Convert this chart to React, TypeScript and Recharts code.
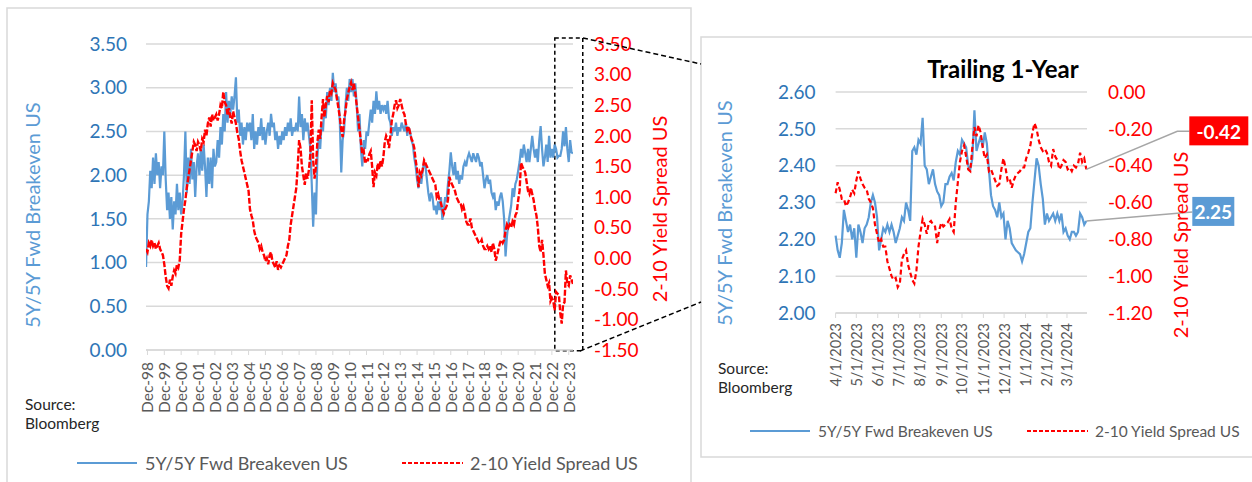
import {
  CartesianGrid,
  ComposedChart,
  LabelList,
  Line,
  ReferenceArea,
  XAxis,
  YAxis,
} from 'recharts'

const FONT = 'Lato, "Open Sans", sans-serif'
const BLUE = '#5B9BD5'
const BLUE_TEXT = '#2E75B6'
const RED = '#FF0000'
const GRID = '#D9D9D9'
const GREY_TEXT = '#595959'

// Long history: month-end readings from Nov 1998 through Mar 2024
const historyStartYear = 1998
const historyStartMonth = 10 // November, zero-based
const breakevenMonthly = [
  0.95, 1.55,
  1.7, 2.05, 1.85, 2.2, 1.9, 2.25, 2.0, 2.15, 1.85, 2.1, 2.0, 2.5,
  1.95, 1.6, 1.8, 1.5, 1.75, 1.38, 1.7, 1.55, 1.9, 1.6, 1.8, 1.55,
  1.7, 2.0, 2.5, 1.8, 2.2, 1.9, 2.3, 1.95, 2.15, 1.75, 2.1, 2.25,
  2.0, 2.3, 2.05, 2.35, 2.1, 1.75, 2.2, 1.9, 2.2, 1.85, 2.3, 2.1,
  2.15, 2.4, 2.2, 2.55, 2.35, 2.7, 2.5, 2.95, 2.6, 2.85, 2.7, 2.9,
  2.75, 2.9, 3.12, 2.6, 2.75, 2.45, 2.6, 2.35, 2.55, 2.4, 2.6, 2.5,
  2.6, 2.4, 2.7, 2.3, 2.5, 2.35, 2.55, 2.45, 2.65, 2.4, 2.55, 2.35,
  2.5, 2.6, 2.45, 2.7, 2.55, 2.6, 2.4, 2.5, 2.3, 2.45, 2.35, 2.5,
  2.4, 2.55, 2.45, 2.6, 2.5, 2.65, 2.45, 2.55, 2.5, 2.6, 2.5, 2.9,
  2.55, 2.7, 2.4, 2.65, 2.5, 2.6, 2.45, 2.3, 1.9, 1.41, 1.8, 1.55,
  2.2, 2.45, 2.3, 2.6, 2.5, 2.8, 2.65, 2.95, 2.8, 3.0, 2.85, 3.17,
  2.95, 3.05, 2.85, 2.9, 2.6, 2.03, 2.4, 2.5, 2.8, 3.0, 2.85, 3.1,
  2.95, 3.1, 2.9, 3.05, 2.8, 2.5, 2.7, 2.3, 2.1, 2.4, 2.3, 2.5,
  2.45, 2.6, 2.75, 2.6, 2.85, 2.7, 2.96, 2.75, 2.85, 2.7, 2.8, 2.75,
  2.8, 2.7, 2.85, 2.65, 2.6, 2.45, 2.55, 2.5, 2.6, 2.45, 2.55, 2.5,
  2.6, 2.55, 2.5, 2.6, 2.45, 2.55, 2.5, 2.4, 2.35, 2.2, 2.1, 1.95,
  1.85, 2.0, 1.9, 2.05, 2.15, 2.1, 1.95, 1.8, 1.7, 1.8, 1.75, 1.6,
  1.65, 1.55, 1.7, 1.6, 1.75, 1.49, 1.6, 1.75, 1.7, 1.9, 2.05, 2.26,
  2.1, 2.0, 2.15, 1.95, 2.05, 1.9, 2.0, 1.95, 2.1, 2.15, 2.1, 2.2,
  2.25, 2.2, 2.15, 2.25, 2.2, 2.15, 2.25, 2.2, 2.1, 2.15, 2.0, 1.85,
  1.95, 2.0, 1.9, 1.95, 1.8, 1.75, 1.8, 1.6, 1.7, 1.65, 1.75, 1.8,
  1.7, 1.5, 1.07, 1.3, 1.45, 1.55, 1.65, 1.85, 1.75, 1.9, 1.95, 2.05,
  2.15, 2.3, 2.2, 2.35, 2.25, 2.15, 2.3, 2.15, 2.3, 2.45, 2.3, 2.2,
  2.3, 2.15, 2.4, 2.56, 2.3, 2.1, 2.2, 2.35, 2.15, 2.45, 2.2, 2.3,
  2.2, 2.35, 2.3, 2.2, 2.22, 2.22, 2.3, 2.5, 2.33, 2.55, 2.3, 2.15,
  2.4, 2.26, 2.25,
]
const spreadMonthly = [
  0.15, 0.1,
  0.25, 0.2, 0.3, 0.2, 0.25, 0.15, 0.2, 0.25, 0.15, 0.1, 0.05, -0.1,
  -0.3, -0.45, -0.49, -0.35, -0.45, -0.3, -0.2, -0.25, -0.1, -0.15, -0.03, 0.4,
  0.6, 0.8, 0.95, 1.15, 1.3, 1.45, 1.6, 1.75, 1.9, 1.85, 1.75, 1.9,
  1.85, 1.75, 1.95, 1.9, 2.1, 2.0, 2.2, 2.3, 2.15, 2.35, 2.25, 2.3,
  2.35, 2.25, 2.35, 2.5, 2.45, 2.72, 2.55, 2.5, 2.35, 2.45, 2.3, 2.2,
  2.4, 2.3, 2.2, 2.05, 1.95, 1.75, 1.6, 1.5, 1.4, 1.3, 1.2, 1.1,
  0.8, 0.7, 0.62, 0.45, 0.35, 0.3, 0.25, 0.15, 0.2, 0.1, 0.05, -0.05,
  0.0, -0.1, 0.05, 0.1, -0.05, -0.1, -0.15, -0.05, -0.19, -0.12, -0.15, -0.1,
  -0.05, 0.0, 0.05, 0.2, 0.3, 0.55, 0.7, 0.85, 1.0, 1.15, 1.5, 1.93,
  1.8, 1.5, 1.35, 1.2, 1.4, 1.3, 1.45, 1.7, 2.58, 1.6, 1.3, 1.5,
  1.9, 2.1, 1.95, 2.3, 2.6, 2.3, 2.5, 2.65, 2.55, 2.75, 2.7, 2.86,
  2.8, 2.75, 2.6, 2.45, 2.3, 2.1, 1.98, 2.25, 2.4, 2.6, 2.7, 2.8,
  2.87, 2.75, 2.85, 2.7, 2.5, 2.3, 2.1, 1.9, 1.7, 1.75, 1.55, 1.6,
  1.6, 1.7, 1.75, 1.5, 1.16, 1.4, 1.35, 1.55, 1.45, 1.6, 1.5, 1.65,
  1.9, 2.0, 1.95, 1.8, 2.0, 2.25, 2.35, 2.5, 2.58, 2.45, 2.5, 2.6,
  2.5, 2.4, 2.35, 2.2, 2.1, 2.15, 2.05, 1.95, 1.9, 1.8, 1.6, 1.45,
  1.16, 1.4, 1.35, 1.45, 1.6, 1.55, 1.5, 1.45, 1.4, 1.35, 1.3, 1.25,
  1.2, 1.0, 1.05, 0.95, 0.9, 0.8, 0.73, 0.8, 0.85, 0.95, 1.33, 1.25,
  1.2, 1.15, 1.1, 1.0, 0.95, 0.9, 0.9, 0.8, 0.85, 0.75, 0.6, 0.55,
  0.55, 0.65, 0.5, 0.45, 0.4, 0.35, 0.3, 0.25, 0.25, 0.3, 0.2, 0.15,
  0.15, 0.2, 0.15, 0.2, 0.1, 0.25, 0.15, -0.04, 0.05, 0.15, 0.25, 0.3,
  0.25, 0.3, 0.45, 0.55, 0.5, 0.55, 0.5, 0.6, 0.55, 0.7, 0.75, 0.95,
  1.1, 1.56, 1.5, 1.45, 1.4, 1.25, 1.1, 1.05, 1.15, 1.05, 0.95, 0.8,
  0.7, 0.5, 0.2, 0.1, 0.3, 0.05, -0.25, -0.35, -0.45, -0.4, -0.7, -0.65,
  -0.7, -0.85, -0.55, -0.58, -0.6, -0.9, -1.07, -0.75, -0.72, -0.2, -0.42, -0.45,
  -0.28, -0.35, -0.42,
]
const decemberYears = [
  1998, 1999, 2000, 2001, 2002, 2003, 2004, 2005, 2006, 2007, 2008, 2009, 2010,
  2011, 2012, 2013, 2014, 2015, 2016, 2017, 2018, 2019, 2020, 2021, 2022, 2023,
]
const breakevenTicks = [0, 0.5, 1, 1.5, 2, 2.5, 3, 3.5]
const spreadTicks = [-1.5, -1, -0.5, 0, 0.5, 1, 1.5, 2, 2.5, 3, 3.5]

// Trailing year: every third calendar day from 4/1/2023
const trailStart = '4/1/2023'
const trailStepDays = 3
const trailBreakeven = [
  2.21, 2.17, 2.15, 2.19, 2.28, 2.25, 2.22, 2.24, 2.2, 2.23, 2.15, 2.24,
  2.22, 2.19, 2.23, 2.24, 2.26, 2.3, 2.32, 2.3, 2.26, 2.17, 2.2, 2.23,
  2.22, 2.24, 2.22, 2.24, 2.22, 2.19, 2.21, 2.23, 2.26, 2.25, 2.3, 2.28,
  2.25, 2.44, 2.45, 2.43, 2.47, 2.46, 2.53, 2.4, 2.39, 2.35, 2.37, 2.39,
  2.35, 2.33, 2.32, 2.29, 2.3, 2.35, 2.35, 2.37, 2.38, 2.36, 2.41, 2.44,
  2.43, 2.47, 2.46, 2.45, 2.4, 2.39, 2.42, 2.55, 2.44, 2.46, 2.48, 2.45,
  2.49, 2.46, 2.39, 2.32, 2.29, 2.28, 2.26, 2.3, 2.26, 2.27, 2.2, 2.25,
  2.23, 2.19, 2.18, 2.17, 2.165, 2.16, 2.14, 2.16, 2.19, 2.22, 2.23, 2.3,
  2.36, 2.42, 2.4, 2.35, 2.31, 2.24, 2.27, 2.25, 2.26, 2.27, 2.25, 2.27,
  2.25, 2.27, 2.22, 2.23, 2.21, 2.2, 2.22, 2.22, 2.21, 2.22, 2.27, 2.26,
  2.24, 2.25,
]
const trailSpread = [
  -0.55, -0.49, -0.53, -0.58, -0.58, -0.62, -0.6, -0.57, -0.53, -0.55, -0.48, -0.43,
  -0.47, -0.5, -0.52, -0.53, -0.58, -0.6, -0.63, -0.72, -0.77, -0.82, -0.8, -0.84,
  -0.84, -0.92, -0.96, -1.0, -1.02, -1.01, -1.06, -1.04, -0.91, -0.88, -0.86, -0.94,
  -0.98, -1.02, -1.04, -0.97, -0.84, -0.76, -0.69, -0.72, -0.77, -0.71, -0.7, -0.72,
  -0.73, -0.82, -0.75, -0.71, -0.73, -0.72, -0.71, -0.69, -0.74, -0.76, -0.6, -0.49,
  -0.38, -0.32, -0.29, -0.35, -0.42, -0.43, -0.3, -0.19, -0.24, -0.18, -0.22, -0.3,
  -0.36, -0.34, -0.43, -0.42, -0.45, -0.48, -0.51, -0.5, -0.42, -0.36, -0.41, -0.48,
  -0.47, -0.52, -0.48, -0.45, -0.44, -0.43, -0.41, -0.41, -0.36, -0.33, -0.29, -0.22,
  -0.17, -0.2, -0.26, -0.3, -0.32, -0.31, -0.33, -0.38, -0.4, -0.31, -0.35, -0.37,
  -0.42, -0.4, -0.37, -0.38, -0.42, -0.41, -0.43, -0.4, -0.41, -0.39, -0.33, -0.38,
  -0.36, -0.42,
]
const trailMonthLabels = [
  '4/1/2023', '5/1/2023', '6/1/2023', '7/1/2023', '8/1/2023', '9/1/2023',
  '10/1/2023', '11/1/2023', '12/1/2023', '1/1/2024', '2/1/2024', '3/1/2024',
]
const trailBreakevenTicks = [2.0, 2.1, 2.2, 2.3, 2.4, 2.5, 2.6]
const trailSpreadTicks = [-1.2, -1.0, -0.8, -0.6, -0.4, -0.2, 0]

function parseUsDate(s: string): number {
  const [m, d, y] = s.split('/').map(Number)
  return Date.UTC(y, m - 1, d)
}
const DAY_MS = 86_400_000
const trailStartMs = parseUsDate(trailStart)
const trailMonthTicks = trailMonthLabels.map((s) =>
  Math.round((parseUsDate(s) - trailStartMs) / DAY_MS),
)
const trailTickLabel = new Map(trailMonthTicks.map((d, i) => [d, trailMonthLabels[i]]))

const historyRows = breakevenMonthly.map((v, i) => ({
  t: historyStartYear + (historyStartMonth + i) / 12,
  breakeven: v,
  spread: spreadMonthly[i],
}))
const decTickValues = decemberYears.map((y) => y + 11 / 12)

const trailRows = trailBreakeven.map((v, i) => ({
  day: i * trailStepDays,
  breakeven: v,
  spread: trailSpread[i],
}))
const lastTrailIdx = trailRows.length - 1

// x-axis labels in these sheets run bottom-to-top, hanging from the tick
function RotatedTick(props: any) {
  const { x, y, payload, label, gap, size } = props
  const ty = y + gap
  return (
    <text
      x={x}
      y={ty}
      transform={`rotate(-90 ${x} ${ty})`}
      textAnchor="end"
      dominantBaseline="central"
      fill={GREY_TEXT}
      fontSize={size}
      fontFamily={FONT}
    >
      {label(payload.value)}
    </text>
  )
}

function decLabel(v: number): string {
  const yr = Math.round(v - 11 / 12)
  return `Dec-${String(yr % 100).padStart(2, '0')}`
}

function SpreadCallout(props: any) {
  const { x, y, index, value } = props
  if (index !== lastTrailIdx || x == null || y == null) return null
  return (
    <g>
      <polyline
        points={`${x},${y} ${x + 91},${y - 38} ${x + 103},${y - 38}`}
        fill="none"
        stroke="#A6A6A6"
        strokeWidth={1.5}
      />
      <rect x={x + 103} y={y - 53} width={59} height={29} fill={RED} />
      <text
        x={x + 132.5}
        y={y - 38}
        textAnchor="middle"
        dominantBaseline="central"
        fill="#fff"
        fontWeight={700}
        fontSize={19}
        fontFamily={FONT}
      >
        {Number(value).toFixed(2)}
      </text>
    </g>
  )
}

function BreakevenCallout(props: any) {
  const { x, y, index, value } = props
  if (index !== lastTrailIdx || x == null || y == null) return null
  return (
    <g>
      <line x1={x} y1={y} x2={x + 106} y2={y - 9} stroke="#A6A6A6" strokeWidth={1.5} />
      <rect x={x + 106} y={y - 24} width={42} height={29} fill={BLUE} />
      <text
        x={x + 127}
        y={y - 9.5}
        textAnchor="middle"
        dominantBaseline="central"
        fill="#fff"
        fontWeight={700}
        fontSize={19}
        fontFamily={FONT}
      >
        {Number(value).toFixed(2)}
      </text>
    </g>
  )
}

function HistoryChart() {
  return (
    <ComposedChart
      width={700}
      height={482}
      data={historyRows}
      margin={{ top: 44, right: 47, bottom: 72, left: 66 }}
    >
      <CartesianGrid yAxisId="be" vertical={false} stroke={GRID} strokeWidth={1.5} />
      <XAxis
        type="number"
        dataKey="t"
        domain={[1998.83, 2024.17]}
        ticks={decTickValues}
        interval={0}
        allowDataOverflow
        height={60}
        tickSize={5}
        axisLine={{ stroke: GRID, strokeWidth: 1.5 }}
        tickLine={{ stroke: GRID }}
        tick={<RotatedTick label={decLabel} gap={5} size={15.5} />}
      />
      <YAxis
        yAxisId="be"
        domain={[0, 3.5]}
        ticks={breakevenTicks}
        width={80}
        axisLine={false}
        tickLine={false}
        tickSize={0}
        tickMargin={19}
        tickFormatter={(v: number) => v.toFixed(2)}
        tick={{ fill: BLUE_TEXT, fontSize: 19, fontFamily: FONT }}
      />
      <YAxis
        yAxisId="sp"
        orientation="right"
        domain={[-1.5, 3.5]}
        ticks={spreadTicks}
        width={80}
        axisLine={false}
        tickLine={false}
        tickSize={0}
        tickMargin={21}
        tickFormatter={(v: number) => v.toFixed(2)}
        tick={{ fill: RED, fontSize: 19, fontFamily: FONT }}
      />
      <Line
        yAxisId="be"
        dataKey="breakeven"
        stroke={BLUE}
        strokeWidth={2.2}
        dot={false}
        isAnimationActive={false}
      />
      <Line
        yAxisId="sp"
        dataKey="spread"
        stroke={RED}
        strokeWidth={2.4}
        strokeDasharray="6 2"
        dot={false}
        isAnimationActive={false}
      />
      {/* window that the trailing-year panel zooms into */}
      <ReferenceArea
        yAxisId="be"
        x1={2023.09}
        x2={2024.75}
        y1={-0.01}
        y2={3.57}
        ifOverflow="visible"
        fill="none"
        stroke="#000"
        strokeWidth={1.5}
        strokeDasharray="4 3"
      />
    </ComposedChart>
  )
}

function TrailingChart() {
  return (
    <ComposedChart
      width={552}
      height={482}
      data={trailRows}
      margin={{ top: 92, right: 85, bottom: 99, left: 75.6 }}
    >
      <CartesianGrid yAxisId="be" vertical={false} stroke={GRID} strokeWidth={1.5} />
      <XAxis
        type="number"
        dataKey="day"
        domain={[0, 364]}
        ticks={trailMonthTicks}
        interval={0}
        height={70}
        tickSize={5}
        axisLine={{ stroke: GRID, strokeWidth: 1.5 }}
        tickLine={{ stroke: GRID }}
        tick={<RotatedTick label={(d: number) => trailTickLabel.get(d) ?? ''} gap={3} size={14.5} />}
      />
      <YAxis
        yAxisId="be"
        domain={[2.0, 2.6]}
        ticks={trailBreakevenTicks}
        width={60}
        axisLine={false}
        tickLine={false}
        tickSize={0}
        tickMargin={20}
        tickFormatter={(v: number) => v.toFixed(2)}
        tick={{ fill: BLUE_TEXT, fontSize: 19, fontFamily: FONT }}
      />
      <YAxis
        yAxisId="sp"
        orientation="right"
        domain={[-1.2, 0]}
        ticks={trailSpreadTicks}
        width={80}
        axisLine={false}
        tickLine={false}
        tickSize={0}
        tickMargin={21}
        tickFormatter={(v: number) => v.toFixed(2)}
        tick={{ fill: RED, fontSize: 19, fontFamily: FONT }}
      />
      <Line
        yAxisId="be"
        dataKey="breakeven"
        stroke={BLUE}
        strokeWidth={2.2}
        dot={false}
        isAnimationActive={false}
      >
        <LabelList dataKey="breakeven" content={<BreakevenCallout />} />
      </Line>
      <Line
        yAxisId="sp"
        dataKey="spread"
        stroke={RED}
        strokeWidth={2.2}
        strokeDasharray="5 3"
        dot={false}
        isAnimationActive={false}
      >
        <LabelList dataKey="spread" content={<SpreadCallout />} />
      </Line>
    </ComposedChart>
  )
}

function Legend({ x, y, size, gap }: { x: number; y: number; size: number; gap: number }) {
  return (
    <g fontFamily={FONT} fontSize={size} fill={GREY_TEXT}>
      <line x1={x} y1={y} x2={x + 60} y2={y} stroke={BLUE} strokeWidth={2} />
      <text x={x + 68} y={y} dominantBaseline="central">
        5Y/5Y Fwd Breakeven US
      </text>
      <line
        x1={x + gap}
        y1={y}
        x2={x + gap + 61}
        y2={y}
        stroke={RED}
        strokeWidth={2}
        strokeDasharray="4 2"
      />
      <text x={x + gap + 68} y={y} dominantBaseline="central">
        2-10 Yield Spread US
      </text>
    </g>
  )
}

function Source({ x, y }: { x: number; y: number }) {
  return (
    <g fontFamily={FONT} fontSize={15.5} fill="#262626">
      <text x={x} y={y} dominantBaseline="central">Source:</text>
      <text x={x} y={y + 19} dominantBaseline="central">Bloomberg</text>
    </g>
  )
}

function AxisTitle({ x, y, color, text }: { x: number; y: number; color: string; text: string }) {
  return (
    <text
      x={x}
      y={y}
      transform={`rotate(-90 ${x} ${y})`}
      textAnchor="middle"
      dominantBaseline="central"
      fill={color}
      fontSize={20}
      fontFamily={FONT}
    >
      {text}
    </text>
  )
}

export default function App() {
  return (
    <div
      style={{
        position: 'absolute',
        left: 0,
        top: 0,
        width: 1252,
        height: 482,
        background: '#fff',
        overflow: 'hidden',
      }}
    >
      <svg width={1252} height={482} style={{ position: 'absolute', left: 0, top: 0 }}>
        <rect x={7} y={8} width={684} height={490} fill="none" stroke={GRID} strokeWidth={1.5} />
        <rect x={701} y={37} width={570} height={420} fill="none" stroke={GRID} strokeWidth={1.5} />
      </svg>
      <div style={{ position: 'absolute', left: 0, top: 0 }}>
        <HistoryChart />
      </div>
      <div style={{ position: 'absolute', left: 700, top: 0 }}>
        <TrailingChart />
      </div>
      <svg
        width={1252}
        height={482}
        style={{ position: 'absolute', left: 0, top: 0, pointerEvents: 'none' }}
      >
        <line x1={583} y1={38} x2={701} y2={64} stroke="#000" strokeWidth={1.5} strokeDasharray="5 3" />
        <line x1={580} y1={351} x2={701} y2={302} stroke="#000" strokeWidth={1.5} strokeDasharray="5 3" />

        <AxisTitle x={32} y={215} color={BLUE} text="5Y/5Y Fwd Breakeven US" />
        <AxisTitle x={659} y={209} color={RED} text="2-10 Yield Spread US" />
        <AxisTitle x={724} y={213} color={BLUE} text="5Y/5Y Fwd Breakeven US" />
        <AxisTitle x={1180} y={245} color={RED} text="2-10 Yield Spread US" />

        <text
          x={1003}
          y={68}
          textAnchor="middle"
          dominantBaseline="central"
          fontFamily={FONT}
          fontWeight={700}
          fontSize={24}
          fill="#000"
        >
          Trailing 1-Year
        </text>

        <Source x={25} y={404} />
        <Source x={718} y={368} />
        <Legend x={77} y={463} size={18} gap={325} />
        <Legend x={750} y={431} size={15.5} gap={277} />
      </svg>
    </div>
  )
}
